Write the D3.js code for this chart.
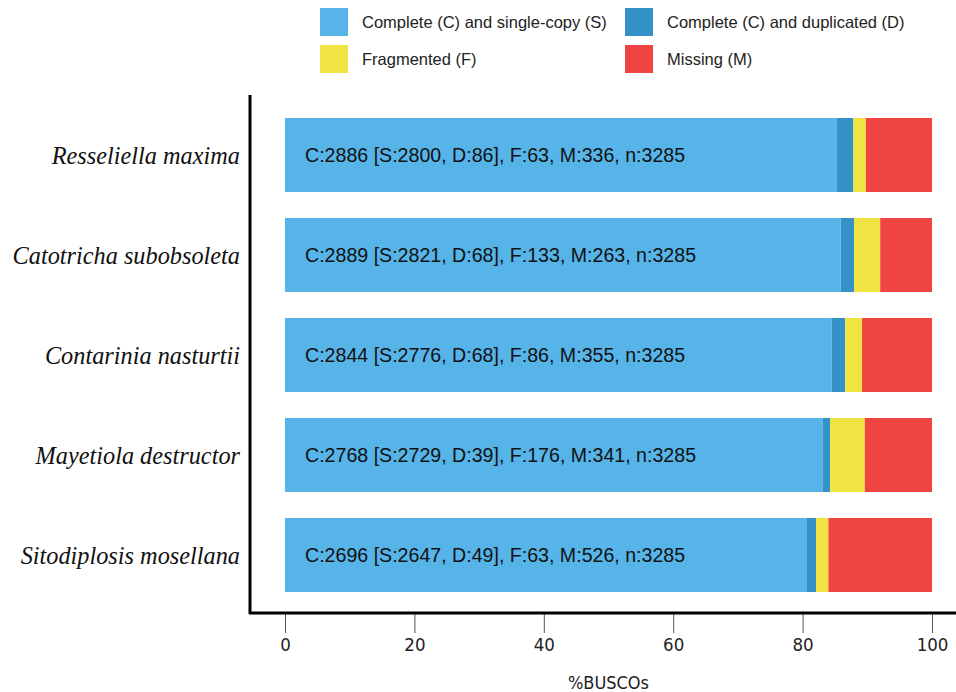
<!DOCTYPE html>
<html>
<head>
<meta charset="utf-8">
<script src="https://cdn.jsdelivr.net/npm/d3@7"></script>
<style>
  body { margin: 0; background: #fff; }
  svg { display: block; }
</style>
</head>
<body>
<div class="container"></div>
<script>
const WIDTH = 956;
const HEIGHT = 692;

// BUSCO counts per species
const species = ["Resseliella maxima", "Catotricha subobsoleta", "Contarinia nasturtii", "Mayetiola destructor", "Sitodiplosis mosellana"];
const singleCopy = [2800, 2821, 2776, 2729, 2647];
const duplicated = [86, 68, 68, 39, 49];
const fragmented = [63, 133, 86, 176, 63];
const missing = [336, 263, 355, 341, 526];
const total = 3285;

const xTicks = [0, 20, 40, 60, 80, 100];
const categories = ["Complete (C) and single-copy (S)", "Complete (C) and duplicated (D)", "Fragmented (F)", "Missing (M)"];
const colors = ["#56B4E9", "#3492C7", "#F0E442", "#F04442"];
const keys = ["S", "D", "F", "M"];

var rows = species.map(function(name, i){
    return {name: name, S: singleCopy[i] / total * 100, D: duplicated[i] / total * 100,
            F: fragmented[i] / total * 100, M: missing[i] / total * 100,
            label: "C:" + (singleCopy[i] + duplicated[i]) + " [S:" + singleCopy[i] + ", D:" + duplicated[i] + "], F:" + fragmented[i] + ", M:" + missing[i] + ", n:" + total};
});

var xScale = d3.scaleLinear().domain([0, 100]).range([285, 932]);
var yScale = d3.scaleBand().domain(species).range([105, 605]).paddingInner(0.26).paddingOuter(0.13);

var svg = d3.select('.container').append('svg')
    .attr('width', WIDTH)
    .attr('height', HEIGHT);

// legend
var legend = svg.append('g').selectAll('g')
    .data(categories)
    .enter().append('g')
    .attr('transform', function(d, i){ return "translate(" + (i % 2 ? 625 : 320) + "," + (i < 2 ? 8 : 45) + ")"; });
legend.append('rect')
    .attr('width', 28).attr('height', 28)
    .attr('fill', function(d, i){ return colors[i]; });
legend.append('text')
    .attr('x', 42).attr('y', 14).attr('dy', '0.35em')
    .style('font-family', 'Liberation Sans, Arial, sans-serif')
    .style('font-size', '16.5px')
    .attr('fill', '#222')
    .text(function(d){ return d; });

// stacked bars
var stack = d3.stack().keys(keys)(rows);
svg.append('g').selectAll('g')
    .data(stack)
    .enter().append('g')
    .attr('fill', function(d, i){ return colors[i]; })
    .selectAll('rect')
    .data(function(d){ return d; })
    .enter().append('rect')
    .attr('x', function(d){ return xScale(d[0]); })
    .attr('width', function(d){ return xScale(d[1]) - xScale(d[0]); })
    .attr('y', function(d){ return yScale(d.data.name); })
    .attr('height', yScale.bandwidth());

// bar labels
svg.append('g').selectAll('text')
    .data(rows)
    .enter().append('text')
    .attr('x', xScale(0) + 20)
    .attr('y', function(d){ return yScale(d.name) + yScale.bandwidth() / 2; })
    .attr('dy', '0.35em')
    .style('font-family', 'Liberation Sans, Arial, sans-serif')
    .style('font-size', '19.6px')
    .attr('fill', '#111')
    .text(function(d){ return d.label; });

// species labels
svg.append('g').selectAll('text')
    .data(species)
    .enter().append('text')
    .attr('x', 240)
    .attr('y', function(d){ return yScale(d) + yScale.bandwidth() / 2; })
    .attr('dy', '0.35em')
    .attr('text-anchor', 'end')
    .style('font-family', 'Liberation Serif, Times New Roman, serif')
    .style('font-style', 'italic')
    .style('font-size', '24.3px')
    .attr('fill', '#111')
    .text(function(d){ return d; });

// x axis
var xAxis = d3.axisBottom(xScale).tickValues(xTicks).tickSize(20).tickPadding(5);
var gx = svg.append('g')
    .attr('transform', "translate(0,613)")
    .call(xAxis);
gx.select('.domain').remove();
gx.selectAll('.tick line').attr('stroke', '#555');
gx.selectAll('.tick text')
    .style('font-family', 'DejaVu Sans Condensed, sans-serif')
    .style('font-stretch', 'condensed')
    .style('font-size', '18.5px')
    .attr('fill', '#222');

// axis frame lines
svg.append('line').attr('x1', 250).attr('x2', 250).attr('y1', 95).attr('y2', 614)
    .attr('stroke', '#000').attr('stroke-width', 3);
svg.append('line').attr('x1', 249).attr('x2', WIDTH).attr('y1', 613).attr('y2', 613)
    .attr('stroke', '#000').attr('stroke-width', 3);

svg.append('text')
    .attr('x', xScale(50)).attr('y', 689)
    .attr('text-anchor', 'middle')
    .style('font-family', 'DejaVu Sans Condensed, sans-serif')
    .style('font-stretch', 'condensed')
    .style('font-size', '18px')
    .attr('fill', '#222')
    .text("%BUSCOs");
</script>
</body>
</html>
